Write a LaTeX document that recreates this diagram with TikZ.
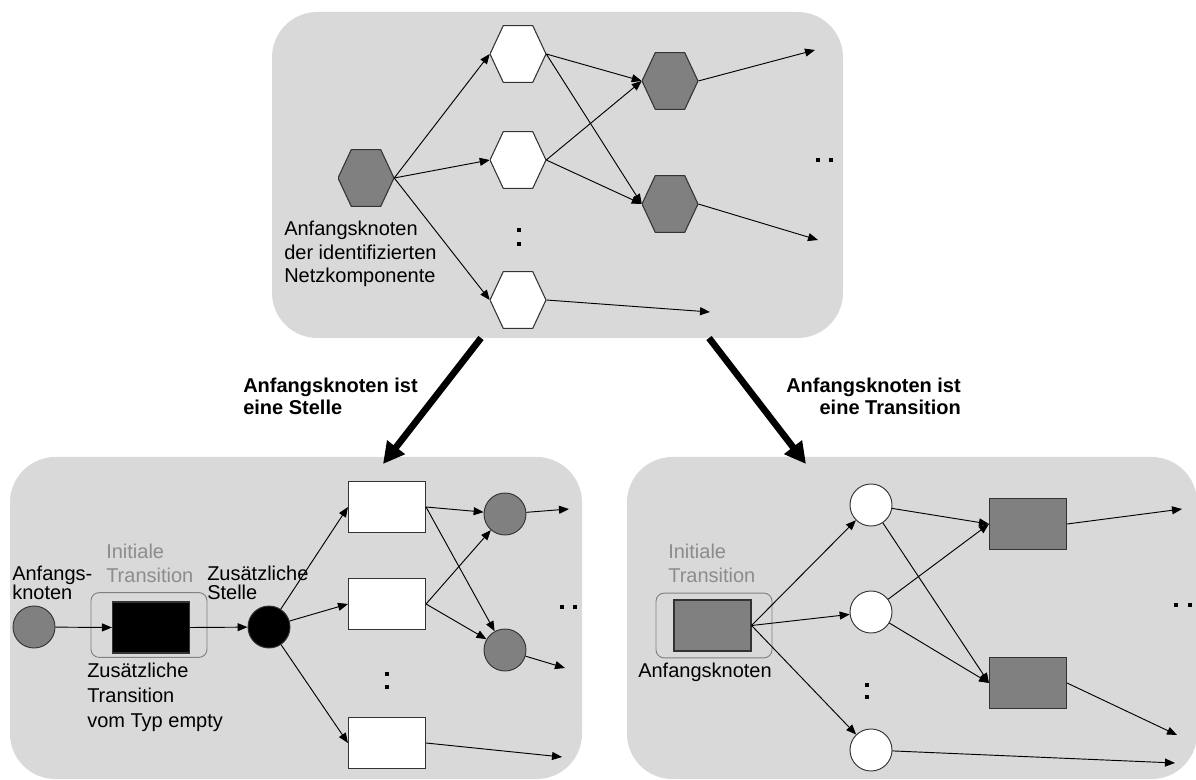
\documentclass[tikz,border=0pt]{standalone}
\usepackage{fontspec}
\setmainfont{Liberation Sans}
\usetikzlibrary{arrows.meta}

% kleiner Punkt fuer die Auslassungen
\newcommand\pkt[2]{\fill (#1,#2) rectangle ++(4,4);}

\begin{document}
\begin{tikzpicture}[x=0.75pt, y=-0.75pt,
    every node/.style={font=\fontsize{15}{17.5}\selectfont, inner sep=0pt},
    zeilen/.style={font={\fontsize{15}{#1}\selectfont\lineskiplimit-20pt\relax}},
    txt/.style={anchor=north west, align=left},
    grau/.style={text=black!45},
    feld/.style={fill=black!15, rounded corners=34pt},
    pfeil/.style={-{Triangle[length=7.5pt,width=6pt]}, line width=0.7pt},
    dick/.style={-{Triangle[length=16pt,width=16pt]}, line width=5pt},
    hexa/.style={minimum width=42pt, minimum height=42.75pt,
      path picture={\draw[fill=#1, draw=black!80, line width=0.8pt]
        (path picture bounding box.west)
        -- ([xshift=10pt]path picture bounding box.north west)
        -- ([xshift=-10pt]path picture bounding box.north east)
        -- (path picture bounding box.east)
        -- ([xshift=-10pt]path picture bounding box.south east)
        -- ([xshift=10pt]path picture bounding box.south west) -- cycle;}},
    stelle/.style={circle, draw=black!80, line width=0.7pt, fill=#1, minimum size=31.5pt},
    trans/.style={draw=black!80, line width=0.8pt, fill=#1, minimum width=57.75pt, minimum height=38.25pt},
    rahmen/.style={draw=black!50, rounded corners=6pt, line width=0.7pt, minimum width=87pt, minimum height=48.5pt},
  ]
  \useasboundingbox (0,0) rectangle (1196,780);

  % die drei Felder
  \node[feld, minimum width=428.25pt, minimum height=244.5pt] (oben) at (557.5,175) {};
  \node[feld, minimum width=429pt, minimum height=241.5pt] (links) at (296,618) {};
  \node[feld, minimum width=427.5pt, minimum height=241.5pt] (rechts) at (912,618) {};

  % Netzkomponente oben
  \node[hexa=black!50] (s0) at (366,178) {};
  \node[hexa=white] (w1) at (518,54) {};
  \node[hexa=white] (w2) at (518,160) {};
  \node[hexa=white] (w3) at (518,300) {};
  \node[hexa=black!50] (g1) at (670,81) {};
  \node[hexa=black!50] (g2) at (670,204) {};
  \coordinate (e1) at (815,50);
  \coordinate (e2) at (818,240);
  \coordinate (e3) at (710,312);
  \foreach \z in {w1,w2,w3} \draw[pfeil] (s0.east) -- (\z.west);
  \foreach \q in {w1,w2} \foreach \z in {g1,g2} \draw[pfeil] (\q.east) -- (\z.west);
  \draw[pfeil] (g1.east) -- (e1);
  \draw[pfeil] (g2.east) -- (e2);
  \draw[pfeil] (w3.east) -- (e3);
  \node[txt] (lbl0) at (284,221) {Anfangsknoten\\der identifizierten\\Netzkomponente};
  \pkt{517}{228} \pkt{517}{242}
  \pkt{816}{158} \pkt{829}{158}

  % Anfangsknoten ist eine Stelle
  \node[stelle=black!50] (anf) at (34,627) {};
  \node[rahmen] (init1) at (149,625) {};
  \node[trans=black] (leer) at (151,627.5) {};
  \node[stelle=black] (zs) at (269,627) {};
  \node[trans=white] (r1) at (387,507) {};
  \node[trans=white] (r2) at (387,604) {};
  \node[trans=white] (r3) at (387,743) {};
  \node[stelle=black!50] (ca) at (505,514) {};
  \node[stelle=black!50] (cb) at (505,650) {};
  \coordinate (f1) at (569,509);
  \coordinate (f2) at (565,668);
  \coordinate (f3) at (562,757);
  \draw[pfeil] (anf) -- (leer.west);
  \draw[pfeil] (leer.east) -- (zs);
  \foreach \z in {r1,r2,r3} \draw[pfeil] (zs) -- (\z.west);
  \foreach \q in {r1,r2} \foreach \z in {ca,cb} \draw[pfeil] (\q.east) -- (\z);
  \draw[pfeil] (ca) -- (f1);
  \draw[pfeil] (cb) -- (f2);
  \draw[pfeil] (r3.east) -- (f3);
  \node[txt, zeilen=14pt] (lbl1) at (12,566) {Anfangs-\\knoten};
  \node[txt, grau, zeilen=18pt] (lbl2) at (106,543.5) {Initiale\\Transition};
  \node[txt, zeilen=14pt] (lbl3) at (207,566) {Zusätzliche\\Stelle};
  \node[txt, zeilen=18.75pt] (lbl4) at (87,662.5) {Zusätzliche\\Transition\\vom Typ empty};
  \pkt{385}{672} \pkt{385}{685}
  \pkt{560}{605} \pkt{573}{605}

  % Anfangsknoten ist eine Transition
  \node[rahmen] (init2) at (714,625.5) {};
  \node[trans=black!50] (anf2) at (712.5,625.5) {};
  \node[stelle=white] (c1) at (871,505) {};
  \node[stelle=white] (c2) at (871,612) {};
  \node[stelle=white] (c3) at (871,750) {};
  \node[trans=black!50] (t1) at (1028,524) {};
  \node[trans=black!50] (t2) at (1028,683) {};
  \coordinate (h1) at (1182,509);
  \coordinate (h2) at (1177,735);
  \coordinate (h3) at (1175,763);
  \foreach \z in {c1,c2,c3} \draw[pfeil] (anf2.east) -- (\z);
  \foreach \q in {c1,c2} \foreach \z in {t1,t2} \draw[pfeil] (\q) -- (\z.west);
  \draw[pfeil] (t1.east) -- (h1);
  \draw[pfeil] (t2.east) -- (h2);
  \draw[pfeil] (c3) -- (h3);
  \node[txt, grau, zeilen=18pt] (lbl5) at (668,543.5) {Initiale\\Transition};
  \node[anchor=base west] (lbl6) at (638,677) {Anfangsknoten};
  \pkt{865}{683} \pkt{865}{695}
  \pkt{1174}{603} \pkt{1188}{603}

  % Uebergaenge zwischen den Feldern
  \coordinate (ol) at (481,338);
  \coordinate (ul) at (383,464);
  \coordinate (or) at (709,338);
  \coordinate (ur) at (806,464);
  \draw[dick] (ol) -- (ul);
  \draw[dick] (or) -- (ur);
  \node[txt, font={\fontsize{15}{16.5}\selectfont\bfseries}] (lbl7) at (243,377.5) {Anfangsknoten ist\\eine Stelle};
  \node[anchor=north east, align=right, font={\fontsize{15}{16.5}\selectfont\bfseries}] (lbl8) at (961,377.5) {Anfangsknoten ist\\eine Transition};
\end{tikzpicture}
\end{document}
